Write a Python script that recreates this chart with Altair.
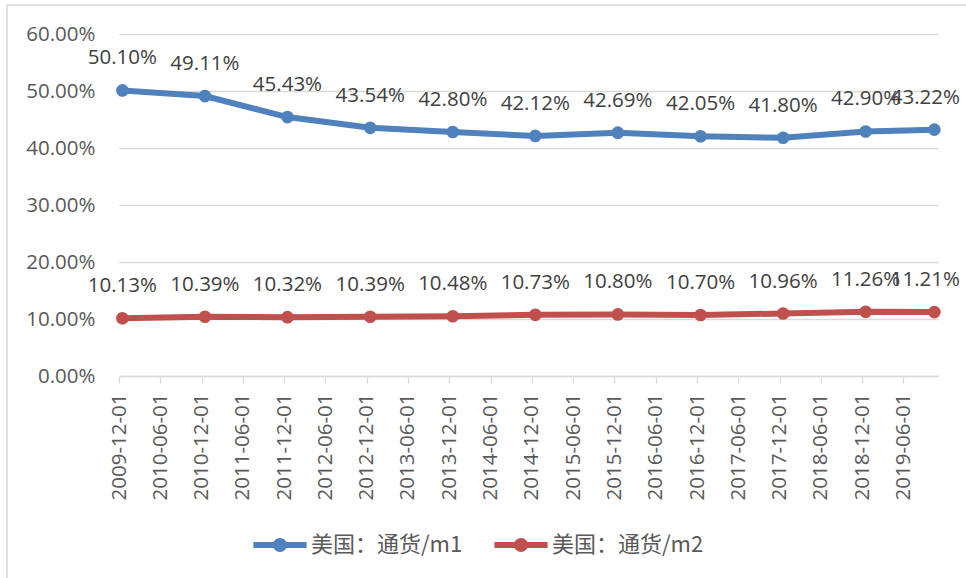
import altair as alt
import pandas as pd

# Year-end observations (last one is the latest month available)
dates = ["2009-12-01", "2010-12-01", "2011-12-01", "2012-12-01", "2013-12-01",
         "2014-12-01", "2015-12-01", "2016-12-01", "2017-12-01", "2018-12-01",
         "2019-10-01"]
m1_share = [50.10, 49.11, 45.43, 43.54, 42.80, 42.12, 42.69, 42.05, 41.80, 42.90, 43.22]
m2_share = [10.13, 10.39, 10.32, 10.39, 10.48, 10.73, 10.80, 10.70, 10.96, 11.26, 11.21]

series_names = ["美国：通货/m1", "美国：通货/m2"]
series_colors = ["#4F81BD", "#C0504D"]

# Half-year axis ticks
tick_labels = ["2009-12-01", "2010-06-01", "2010-12-01", "2011-06-01", "2011-12-01",
               "2012-06-01", "2012-12-01", "2013-06-01", "2013-12-01", "2014-06-01",
               "2014-12-01", "2015-06-01", "2015-12-01", "2016-06-01", "2016-12-01",
               "2017-06-01", "2017-12-01", "2018-06-01", "2018-12-01", "2019-06-01"]
y_ticks = [0.0, 0.1, 0.2, 0.3, 0.4, 0.5, 0.6]


def to_dt(s):
    y, m, d = (int(p) for p in s.split("-"))
    return alt.DateTime(year=y, month=m, date=d)


rows = []
for name, vals in zip(series_names, [m1_share, m2_share]):
    for d, v in zip(dates, vals):
        rows.append({"date": d, "series": name, "value": v})
df = pd.DataFrame(rows)

FONT = "Open Sans"
CJK = "Noto Sans CJK SC"
W, H = 819, 342
LEFT, TOP = 119, 34

# legend glyph: a thick stroke with a dot in the middle
legend_glyph = ("M-3.8,-0.43H3.8V0.43H-3.8Z "
                "M1,0A1,1 0 1,1 -1,0A1,1 0 1,1 1,0Z")

base = alt.Chart(df).transform_calculate(
    frac="datum.value / 100",
    # each monthly observation sits in the middle of its month
    t="datetime(toNumber(substring(datum.date,0,4)), toNumber(substring(datum.date,5,7)) - 1, 16)",
)

x_enc = alt.X(
    "t:T",
    title=None,
    scale=alt.Scale(domain=[alt.DateTime(year=2009, month=12, date=1),
                            alt.DateTime(year=2019, month=11, date=1)]),
    axis=alt.Axis(
        values=[to_dt(s) for s in tick_labels],
        format="%Y-%m-%d",
        labelAngle=-90,
        labelFont=FONT,
        labelFontSize=20.5,
        labelColor="#595959",
        labelPadding=10,
        grid=False,
        domainColor="#D9D9D9",
        domainWidth=1.3,
        tickColor="#D9D9D9",
        tickWidth=1.3,
        tickSize=7,
        labelOverlap=False,
    ),
)
y_enc = alt.Y(
    "frac:Q",
    title=None,
    scale=alt.Scale(domain=[0, 0.6], nice=False),
    axis=alt.Axis(
        values=y_ticks,
        format=".2%",
        labelFont=FONT,
        labelFontSize=20.5,
        labelColor="#595959",
        labelPadding=24,
        domain=False,
        ticks=False,
        gridColor="#D9D9D9",
        gridWidth=1.3,
    ),
)
color_enc = alt.Color(
    "series:N",
    scale=alt.Scale(domain=series_names, range=series_colors),
    legend=alt.Legend(
        title=None,
        orient="none",
        direction="horizontal",
        legendX=150,
        legendY=500,
        symbolType=legend_glyph,
        symbolSize=196,
        symbolStrokeWidth=0,
        labelOffset=20,
        columnPadding=31,
        labelFont=CJK,
        labelFontSize=22,
        labelColor="#595959",
        padding=0,
        labelLimit=400,
    ),
)

lines = base.mark_line(strokeWidth=6).encode(x=x_enc, y=y_enc, color=color_enc)
dots = base.mark_point(filled=True, size=160, opacity=1).encode(x=x_enc, y=y_enc, color=color_enc)

label_style = dict(font=FONT, fontSize=20.5, color="#404040", baseline="middle")
label_enc = dict(x=x_enc, y=y_enc, text=alt.Text("frac:Q", format=".2%"))
last_date = dates[-1]
labels = base.mark_text(dy=-32, **label_style).encode(**label_enc).transform_filter(
    f"datum.date != '{last_date}'"
)
# the final labels are nudged left so they stay inside the chart area
labels_last = base.mark_text(dy=-32, dx=-9, **label_style).encode(**label_enc).transform_filter(
    f"datum.date == '{last_date}'"
)

# chart-area frame (top and left edges)
frame = alt.Chart(pd.DataFrame({"k": [0]})).mark_rect(
    fill=None, stroke="#D9D9D9", strokeWidth=1.5
).encode(
    x=alt.value(7 - LEFT), x2=alt.value(1100),
    y=alt.value(5 - TOP), y2=alt.value(700),
)

chart = alt.layer(frame, lines, dots, labels, labels_last).properties(
    width=W,
    height=H,
    autosize=alt.AutoSizeParams(type="none"),
    padding={"left": LEFT, "top": TOP, "right": 966 - LEFT - W, "bottom": 578 - TOP - H},
    background="white",
).configure_view(stroke=None)

chart.save("out.html", embed_options={"renderer": "svg", "actions": False})
